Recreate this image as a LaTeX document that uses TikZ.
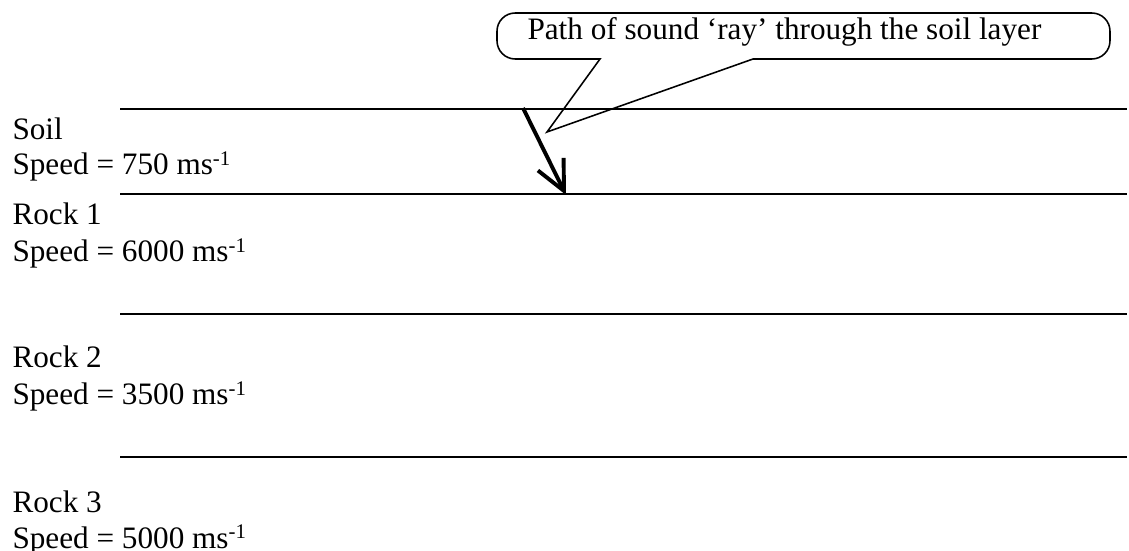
\documentclass[tikz,border=0pt]{standalone}
\usepackage{fontspec}
\setmainfont{Liberation Serif}
\usetikzlibrary{arrows.meta}
\newcommand{\expoente}[1]{\raisebox{3.8pt}{\fontsize{8}{8}\selectfont #1}}

\begin{document}
\begin{tikzpicture}[x=0.3846pt, y=-0.3846pt,
	camada/.style={line width=0.75pt}, % linhas entre as camadas
	rotulo/.style={anchor=base west, inner sep=0pt, font=\fontsize{12}{14}\selectfont},
	balao/.style={line width=0.6pt},
	% raio com ponta aberta
	raio/.style={line width=1.5pt, -{Straight Barb[length=11.5pt, width=11pt, line width=1.5pt]}},
	]
\useasboundingbox (0,0) rectangle (1129,551);
% camadas
\foreach \y/\nome in {109/topo, 194/soilbase, 314/rockumbase, 457/rockdoisbase}
	\draw[camada] (120,\y) coordinate (\nome a) -- (1127,\y) coordinate (\nome b);
% nomes e velocidades
\node[rotulo] (soil) at (12,140) {Soil};
\node[rotulo] (soilv) at (12,175) {Speed = 750 ms\expoente{-1}};
\node[rotulo] (rock1) at (12,225) {Rock 1};
\node[rotulo] (rock1v) at (12,262) {Speed = 6000 ms\expoente{-1}};
\node[rotulo] (rock2) at (12,368) {Rock 2};
\node[rotulo] (rock2v) at (12,405) {Speed = 3500 ms\expoente{-1}};
\node[rotulo] (rock3) at (12,512) {Rock 3};
\node[rotulo] (rock3v) at (12,548) {Speed = 5000 ms\expoente{-1}};
% raio de som
\coordinate (raioini) at (523,108);
\coordinate (raiofim) at (566,195);
\draw[raio] (raioini) -- (raiofim);
% balao
\node[rotulo] (texto) at (527,40) {Path of sound ‘ray’ through the soil layer};
\coordinate (ponta) at (547,132);
\draw[balao] (600,59) -- (ponta) -- (753,59)
	{[rounded corners=7] -- (1110,59) -- (1110,13) -- (497,13) -- (497,59)} -- cycle;
\end{tikzpicture}
\end{document}
